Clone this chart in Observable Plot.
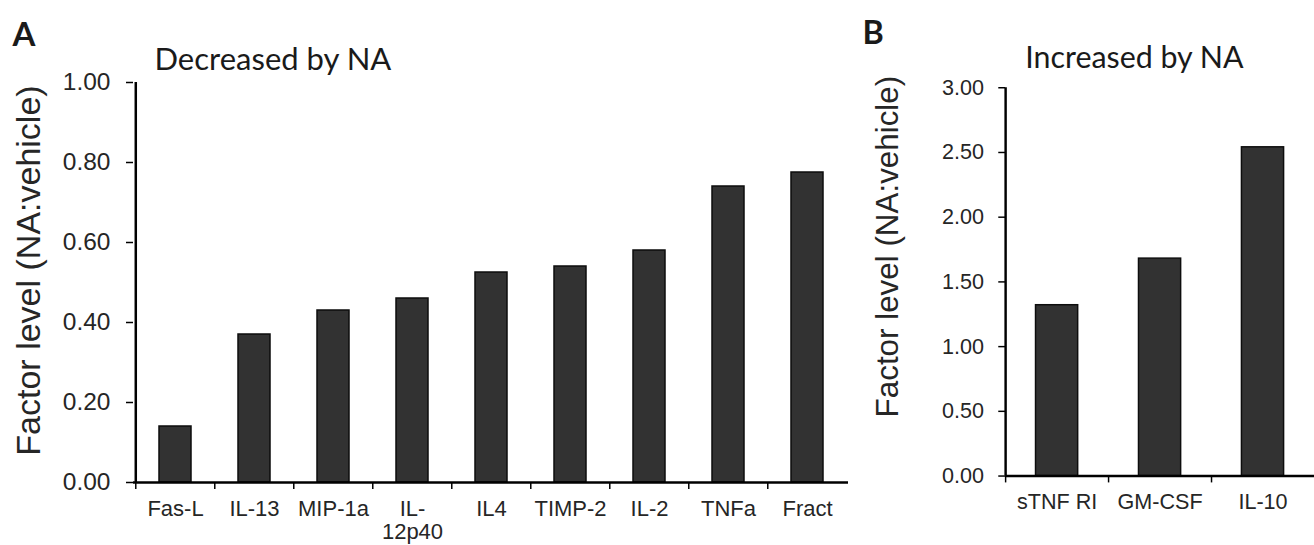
<!DOCTYPE html>
<html>
<head>
<meta charset="utf-8">
<script src="https://cdn.jsdelivr.net/npm/d3@7"></script>
<script src="https://cdn.jsdelivr.net/npm/@observablehq/plot@0.6"></script>
<style>
html, body { margin: 0; padding: 0; background: #fff; overflow: hidden; }
#wrap { position: relative; width: 1314px; height: 545px; overflow: hidden; }
#wrap > div { position: absolute; top: 0; }
</style>
</head>
<body>
<div id="wrap"><div id="a" style="left:0px"></div><div id="b" style="left:860px"></div></div>
<script>
// ---- Data ----
const categoriesA = ["Fas-L", "IL-13", "MIP-1a", "IL-12p40", "IL4", "TIMP-2", "IL-2", "TNFa", "Fract"];
const tickLabelsA = ["Fas-L", "IL-13", "MIP-1a", "IL-\n12p40", "IL4", "TIMP-2", "IL-2", "TNFa", "Fract"];
const valuesA = [0.14, 0.37, 0.43, 0.46, 0.525, 0.54, 0.58, 0.74, 0.775];
const yTicksA = [0, 0.2, 0.4, 0.6, 0.8, 1.0];

const categoriesB = ["sTNF RI", "GM-CSF", "IL-10"];
const valuesB = [1.32, 1.68, 2.54];
const yTicksB = [0, 0.5, 1.0, 1.5, 2.0, 2.5, 3.0];

const titleA = "Decreased by NA";
const titleB = "Increased by NA";
const yLabel = "Factor level (NA:vehicle)";

// ---- Styles ----
const sans = "'Liberation Sans', Arial, sans-serif";
const titleFont = "Lato, 'Open Sans', sans-serif";
const barFill = "#323232";
const ink = "#262626";

function panel({cats, labels, values, ticks, yMax, width, mLeft, mRight, mTop, mBottom,
                padInner, yTickFont, yTickPad, letter, letterDx, letterDy, title, titleDx, titleDy, labDx, labDy, labFont}) {
  const data = cats.map((c, i) => ({cat: c, value: values[i]}));
  const step = (width - mLeft - mRight) / cats.length;
  return Plot.plot({
    width, height: 545,
    marginLeft: mLeft, marginRight: mRight, marginTop: mTop, marginBottom: mBottom,
    style: {color: ink, background: "white", overflow: "visible"},
    x: {domain: cats, paddingInner: padInner, paddingOuter: padInner / 2},
    y: {domain: [0, yMax]},
    marks: [
      Plot.barY(data, {x: "cat", y: "value", fill: barFill, stroke: "#0d0d0d", strokeWidth: 1.5}),
      // baseline
      Plot.ruleY([0], {stroke: "#000", strokeWidth: 2.5}),
      // y axis line
      Plot.ruleX([cats[0]], {x: d => d, dx: -step / 2, y1: 0, y2: yMax, stroke: "#000", strokeWidth: 2.5}),
      // x tick marks at band boundaries
      Plot.axisX({tickSize: 7, dx: -step / 2, tickFormat: () => "", stroke: "#000", strokeWidth: 1.5, label: null}),
      // x tick labels
      Plot.axisX({tickSize: 0, tickPadding: 17, tickFormat: (d) => labels[cats.indexOf(d)],
                  fontSize: 22, fontFamily: sans, fill: ink, lineHeight: 1.04, label: null}),
      // y axis
      Plot.axisY({ticks, tickSize: 7, tickPadding: yTickPad, tickFormat: d3.format(".2f"),
                  fontSize: yTickFont, fontFamily: sans, fill: ink, stroke: "#000", strokeWidth: 1.5, label: null}),
      // y label
      Plot.text([yLabel], {text: d => d, frameAnchor: "left", textAnchor: "middle", lineAnchor: "middle",
                  rotate: -90, dx: labDx, dy: labDy, fontSize: labFont, fontFamily: sans, fill: ink}),
      // title
      Plot.text([title], {text: d => d, frameAnchor: "top-left", textAnchor: "start", lineAnchor: "top",
                  dx: titleDx, dy: titleDy, fontSize: 31, fontFamily: titleFont, fill: "#1a1a1a"}),
      // panel letter
      Plot.text([letter], {text: d => d, frameAnchor: "top-left", textAnchor: "start", lineAnchor: "top",
                  dx: letterDx, dy: letterDy, fontSize: 33, fontWeight: "bold", fontFamily: titleFont, fill: "#1a1a1a"})
    ]
  });
}

document.getElementById("a").appendChild(panel({
  cats: categoriesA, labels: tickLabelsA, values: valuesA, ticks: yTicksA, yMax: 1.0,
  width: 860, mLeft: 133, mRight: 12, mTop: 82, mBottom: 63, padInner: 0.6,
  yTickFont: 24.5, yTickPad: 16,
  letter: "A", letterDx: -121, letterDy: -60,
  title: titleA, titleDx: 21, titleDy: -35,
  labDx: -104, labDy: -12, labFont: 34
}));

document.getElementById("b").appendChild(panel({
  cats: categoriesB, labels: categoriesB, values: valuesB, ticks: yTicksB, yMax: 3.0,
  width: 463, mLeft: 148, mRight: 0, mTop: 89, mBottom: 60, padInner: 0.59,
  yTickFont: 22, yTickPad: 15,
  letter: "B", letterDx: -146, letterDy: -68,
  title: titleB, titleDx: 20, titleDy: -42,
  labDx: -120, labDy: -36, labFont: 32
}));
</script>
</body>
</html>
